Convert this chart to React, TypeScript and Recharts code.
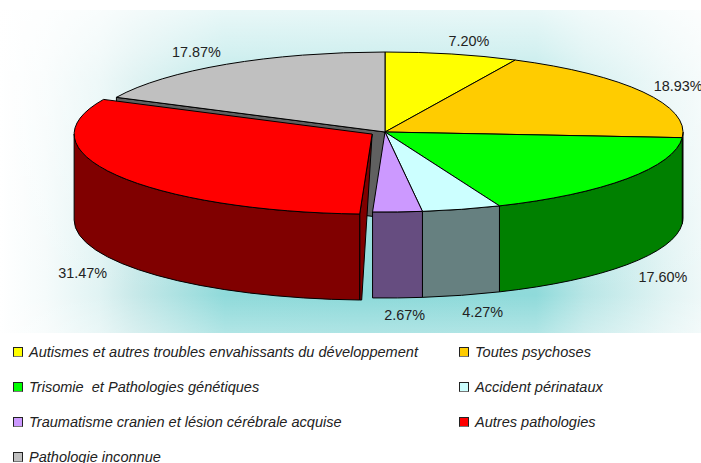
import { Legend, Pie, PieChart } from "recharts";

const categories = [
  "Autismes et autres troubles envahissants du développement",
  "Toutes psychoses",
  "Trisomie  et Pathologies génétiques",
  "Accident périnataux",
  "Traumatisme cranien et lésion cérébrale acquise",
  "Autres pathologies",
  "Pathologie inconnue",
];
const seriesValues = [7.2, 18.93, 17.6, 4.27, 2.67, 31.47, 17.87];
const topColors = ["#ffff00", "#ffcc00", "#00ff00", "#ccffff", "#cc99ff", "#ff0000", "#c0c0c0"];
const wallColors = ["#808000", "#806600", "#008000", "#668080", "#664d80", "#800000", "#606060"];

const explodedName = "Autres pathologies";
const cutFaceName = "Pathologie inconnue";

// label nudges from the rim, one per slice
const labelNudge = [
  [17, -13],
  [35, -6],
  [36, 12],
  [21, 17],
  [7, 17],
  [-34, 12],
  [-30, -12],
];

const W = 701;
const H = 463;
const CX = 385;
const CY = 132;
const RX = 298;
const RY = 80;
const DEPTH = 86;
const EXPLODE = 15;

const pieData = categories.map((name, i) => ({
  name,
  value: seriesValues[i],
  fill: topColors[i],
  wall: wallColors[i],
}));

// angle is clockwise from 12 o'clock, the ellipse is the squashed pie
function rim(cx: number, cy: number, deg: number) {
  const t = (deg * Math.PI) / 180;
  return { x: cx + RX * Math.sin(t), y: cy - RY * Math.cos(t) };
}

function sliceCenter(props: any) {
  const a = 90 - props.startAngle;
  const b = 90 - props.endAngle;
  const isExploded = props.name === explodedName;
  const mid = ((a + b) / 2) * (Math.PI / 180);
  const cx = props.cx + (isExploded ? EXPLODE * Math.sin(mid) : 0);
  const cy = props.cy - (isExploded ? EXPLODE * Math.cos(mid) * (RY / RX) : 0);
  return { a, b, cx, cy };
}

function CutFace(props: any) {
  if (props.name !== cutFaceName) return null;
  const { a } = sliceCenter(props);
  const p = rim(props.cx, props.cy, a);
  const d = `M${props.cx},${props.cy} L${p.x},${p.y} L${p.x},${p.y + DEPTH} L${props.cx},${props.cy + DEPTH} Z`;
  return <path d={d} fill={props.wall} stroke="#000" strokeWidth={1} />;
}

function Wall(props: any) {
  const { a, b, cx, cy } = sliceCenter(props);
  const from = Math.max(a, 90);
  const to = Math.min(b, 270);
  if (from >= to) return null;
  const p = rim(cx, cy, from);
  const q = rim(cx, cy, to);
  const d =
    `M${p.x},${p.y} A${RX},${RY} 0 0 1 ${q.x},${q.y} L${q.x},${q.y + DEPTH} ` +
    `A${RX},${RY} 0 0 0 ${p.x},${p.y + DEPTH} Z`;
  const s = rim(cx, cy, a);
  return (
    <g>
      {props.name === explodedName && (
        <path
          d={`M${cx},${cy} L${s.x},${s.y} L${s.x},${s.y + DEPTH} L${s.x + 2},${s.y + DEPTH} Z`}
          fill={props.wall}
          stroke="#000"
          strokeWidth={1}
        />
      )}
      <path d={d} fill={props.wall} stroke="#000" strokeWidth={1} strokeLinejoin="round" />
    </g>
  );
}

function Top(props: any) {
  const { a, b, cx, cy } = sliceCenter(props);
  const p = rim(cx, cy, a);
  const q = rim(cx, cy, b);
  const large = b - a > 180 ? 1 : 0;
  const d = `M${cx},${cy} L${p.x},${p.y} A${RX},${RY} 0 ${large} 1 ${q.x},${q.y} Z`;
  return <path d={d} fill={props.fill} stroke="#000" strokeWidth={1} strokeLinejoin="round" />;
}

function PercentLabel(props: any) {
  const i = categories.indexOf(props.name);
  const { a, b, cx, cy } = sliceCenter(props);
  const mid = (a + b) / 2;
  const p = rim(cx, cy, mid);
  const front = mid > 90 && mid < 270;
  return (
    <text
      x={p.x + labelNudge[i][0]}
      y={p.y + (front ? DEPTH : 0) + labelNudge[i][1]}
      textAnchor="middle"
      dominantBaseline="central"
      fontFamily="Liberation Sans"
      fontSize={14.4}
      fill="#222"
    >
      {seriesValues[i].toFixed(2)}%
    </text>
  );
}

function LegendGrid() {
  const rowTop = 347;
  const rowStep = 35;
  return (
    <div style={{ position: "relative", width: W, height: H - 340 }}>
      {categories.map((name, i) => {
        const col = i % 2;
        const row = Math.floor(i / 2);
        const left = col === 0 ? 13 : 459;
        return (
          <div
            key={name}
            style={{
              position: "absolute",
              left,
              top: rowTop - 340 + row * rowStep,
              display: "flex",
              alignItems: "center",
              height: 10,
              whiteSpace: "pre",
            }}
          >
            <span
              style={{
                display: "inline-block",
                boxSizing: "border-box",
                width: 10,
                height: 10,
                background: topColors[i],
                border: "1px solid #222",
                borderBottomColor: "#777",
                marginRight: 6,
              }}
            />
            <span
              style={{
                fontFamily: "Liberation Sans",
                fontStyle: "italic",
                fontSize: 14.55,
                color: "#222",
              }}
            >
              {name}
            </span>
          </div>
        );
      })}
    </div>
  );
}

export default function App() {
  return (
    <div style={{ position: "absolute", left: 0, top: 0, width: W, height: H, overflow: "hidden", background: "#fff" }}>
      <div
        style={{
          position: "absolute",
          left: 0,
          top: 10,
          width: W,
          height: 323,
          background:
            "linear-gradient(180deg, rgba(255,255,255,0.8) 0px, rgba(255,255,255,0.62) 40px, rgba(255,255,255,0.45) 70px, rgba(255,255,255,0) 285px, rgba(255,255,255,0.3) 323px)," +
            "linear-gradient(90deg, #fff 0px, #f5fbfb 45px, #e0f3f3 100px, #c8e9e9 134px, #8fdada 225px, #8cd9d9 360px, #8fdada 536px, #b8e6e6 585px, #e0f3f3 665px, #eef8f8 701px)",
        }}
      />
      <PieChart
        width={W}
        height={H}
        margin={{ top: 0, right: 0, bottom: 0, left: 0 }}
        style={{ position: "absolute", left: 0, top: 0 }}
      >
        <Pie
          data={pieData}
          dataKey="value"
          nameKey="name"
          cx={CX}
          cy={CY}
          outerRadius={RX}
          startAngle={90}
          endAngle={-270}
          shape={CutFace}
          legendType="none"
          isAnimationActive={false}
        />
        <Pie
          data={pieData}
          dataKey="value"
          nameKey="name"
          cx={CX}
          cy={CY}
          outerRadius={RX}
          startAngle={90}
          endAngle={-270}
          shape={Wall}
          legendType="none"
          isAnimationActive={false}
        />
        <Pie
          data={pieData}
          dataKey="value"
          nameKey="name"
          cx={CX}
          cy={CY}
          outerRadius={RX}
          startAngle={90}
          endAngle={-270}
          shape={Top}
          label={PercentLabel}
          labelLine={false}
          isAnimationActive={false}
        />
        <Legend
          content={<LegendGrid />}
          wrapperStyle={{ position: "absolute", left: 0, top: 340, width: W, height: H - 340 }}
        />
      </PieChart>
    </div>
  );
}
